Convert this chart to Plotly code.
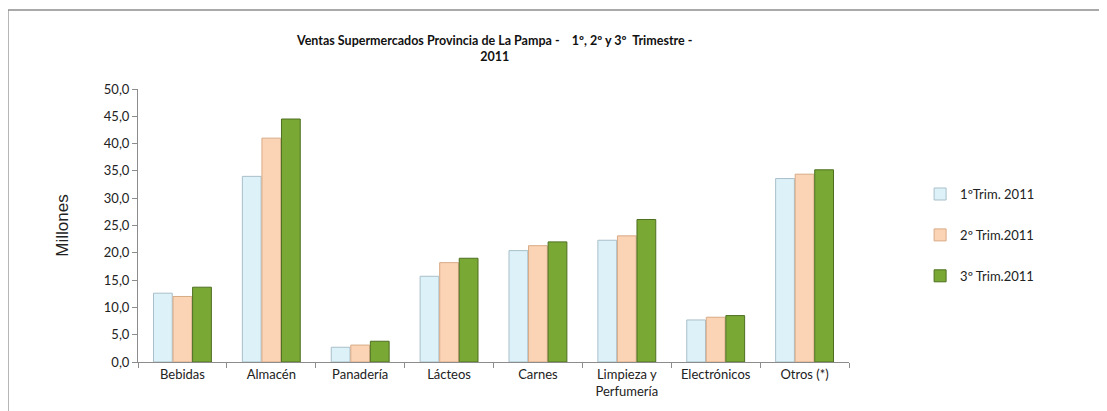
import plotly.graph_objects as go

categorias = ['Bebidas', 'Almacén', 'Panadería', 'Lácteos', 'Carnes',
              'Limpieza y<br>Perfumería', 'Electrónicos', 'Otros (*)']
trim1 = [12.6, 34.0, 2.7, 15.7, 20.4, 22.3, 7.7, 33.6]
trim2 = [12.0, 41.0, 3.1, 18.2, 21.3, 23.1, 8.2, 34.4]
trim3 = [13.7, 44.5, 3.8, 19.0, 22.0, 26.1, 8.5, 35.2]
series = ['1ºTrim. 2011', '2º Trim.2011', '3º Trim.2011']
y_ticks = [0, 5, 10, 15, 20, 25, 30, 35, 40, 45, 50]

colores = ['#dcf1f8', '#fbd4b6', '#7aa834']
bordes = ['#a9bfca', '#d8aa86', '#4e6f20']

fig = go.Figure()
for i, (nombre, valores) in enumerate(zip(series, [trim1, trim2, trim3])):
    fig.add_trace(go.Bar(
        x=categorias,
        y=valores,
        name=nombre,
        legendgroup=nombre,
        marker=dict(color=colores[i], line=dict(color=bordes[i], width=1)),
    ))

fig.update_layout(
    width=1099,
    height=403,
    margin=dict(l=130, r=258, t=81, b=49),
    paper_bgcolor='white',
    plot_bgcolor='white',
    font=dict(family='Lato, Open Sans, sans-serif', size=13, color='#222'),
    separators=',.',
    barmode='group',
    bargap=0.34,
    bargroupgap=0.04,
    showlegend=True,
    legend=dict(
        x=1.1, y=0.465, xanchor='left', yanchor='middle',
        traceorder='grouped', tracegroupgap=21,
        font=dict(size=13), itemwidth=30,
    ),
    annotations=[dict(
        text='<b>Ventas Supermercados Provincia de La Pampa -    1º, 2º y 3º  Trimestre -<br>2011</b>',
        xref='paper', yref='paper', x=0.5, y=1.085, yanchor='bottom',
        showarrow=False,
        font=dict(family='Lato, sans-serif', size=12.5, color='#111'),
    )],
    shapes=[
        dict(type='line', xref='paper', yref='paper', x0=-0.183, x1=1.6,
             y0=1.289, y1=1.289, line=dict(color='#8c8c8c', width=1.5)),
        dict(type='line', xref='paper', yref='paper', x0=-0.183, x1=-0.183,
             y0=1.289, y1=-0.3, line=dict(color='#8c8c8c', width=1.5)),
    ],
)

fig.update_yaxes(
    range=[0, 50], tickvals=y_ticks, tickformat='.1f',
    showgrid=False, showline=True, linecolor='#8c8c8c', linewidth=1,
    ticks='outside', ticklen=5, tickcolor='#8c8c8c',
    title=dict(text='Millones', font=dict(family='Liberation Sans, Arial', size=17), standoff=30),
)
fig.update_xaxes(
    showline=True, linecolor='#8c8c8c', linewidth=1,
    ticks='outside', ticklen=5, tickcolor='#8c8c8c',
    tickson='boundaries', tickfont=dict(size=13),
)

fig.write_html('out.html')
